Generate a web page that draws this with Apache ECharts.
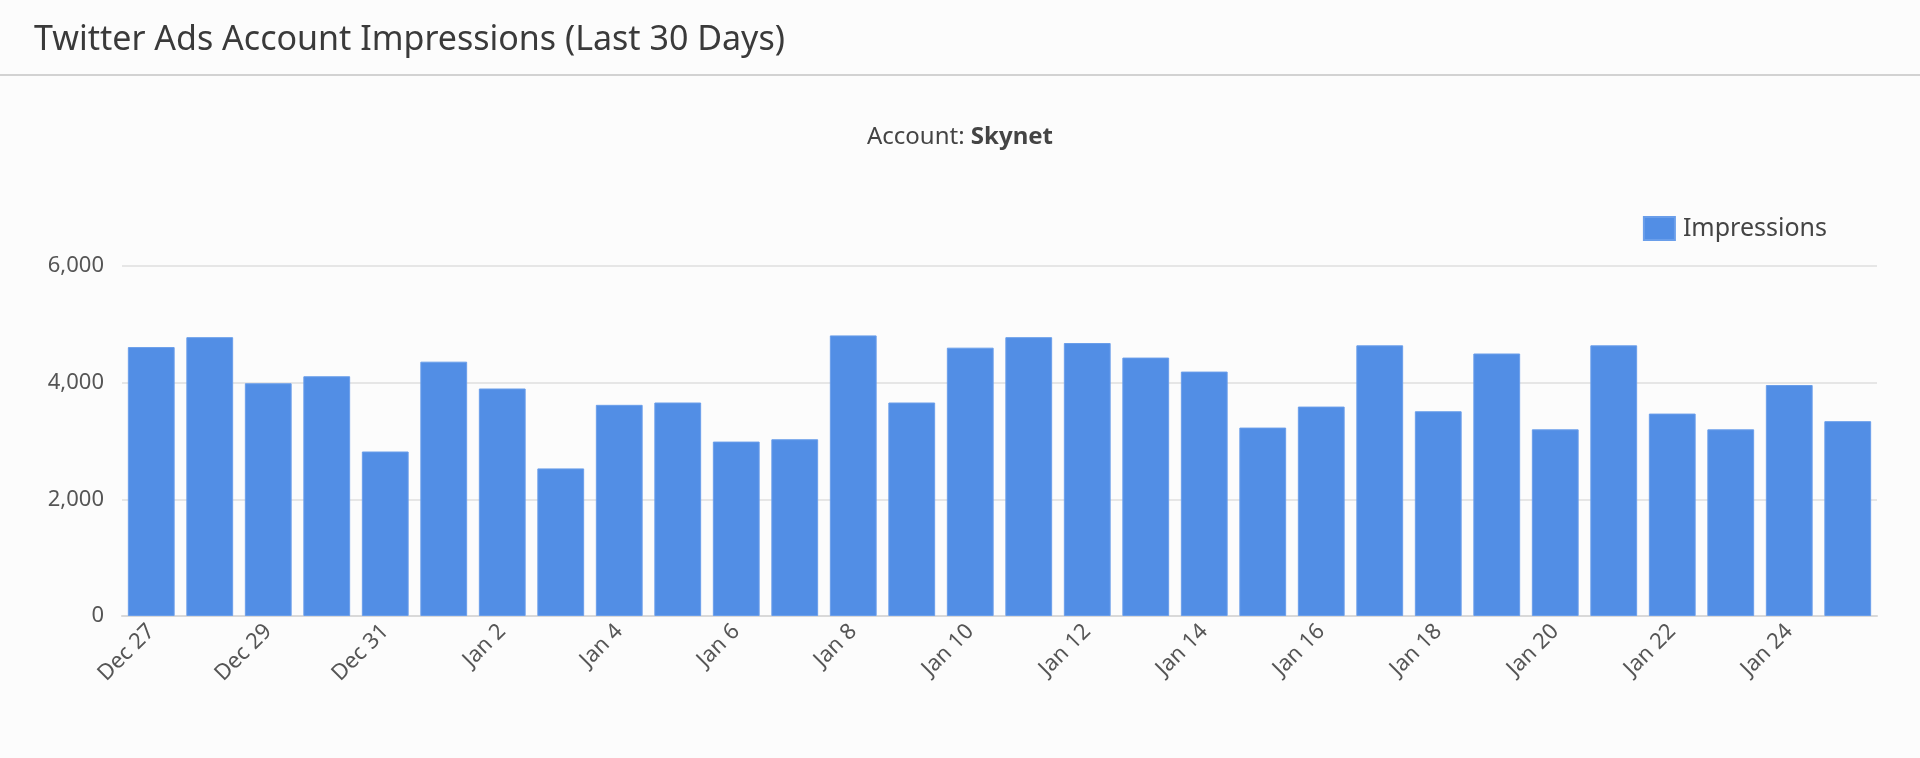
<!DOCTYPE html>
<html>
<head>
<meta charset="utf-8">
<title>Twitter Ads Account Impressions</title>
<script src="https://cdn.jsdelivr.net/npm/echarts@6/dist/echarts.min.js"></script>
<style>
    html, body { margin: 0; padding: 0; background: #fcfcfc; }
    #chart { width: 1920px; height: 758px; }
</style>
</head>
<body>
<div id="chart"></div>
<script>
    'use strict';

    // x axis categories (last 30 days)
    var days = ['Dec 27', 'Dec 28', 'Dec 29', 'Dec 30', 'Dec 31',
        'Jan 1', 'Jan 2', 'Jan 3', 'Jan 4', 'Jan 5', 'Jan 6', 'Jan 7', 'Jan 8', 'Jan 9', 'Jan 10',
        'Jan 11', 'Jan 12', 'Jan 13', 'Jan 14', 'Jan 15', 'Jan 16', 'Jan 17', 'Jan 18', 'Jan 19', 'Jan 20',
        'Jan 21', 'Jan 22', 'Jan 23', 'Jan 24', 'Jan 25'];

    // impressions per day
    var impressions = [4610, 4780, 3990, 4110, 2820, 4360, 3900, 2530, 3620, 3660,
        2990, 3030, 4810, 3660, 4600, 4780, 4680, 4430, 4190, 3230,
        3590, 4640, 3510, 4500, 3200, 4640, 3470, 3200, 3960, 3340];

    var seriesName = 'Impressions';
    var accountName = 'Skynet';

    var fontName = "'Noto Sans', sans-serif";
    var barColor = '#528ee5';

    var myChart = echarts.init(document.getElementById('chart'));

    var option = {
        backgroundColor: '#fcfcfc',
        animation: false,
        textStyle: { fontFamily: fontName },
        title: [{
            text: 'Twitter Ads Account Impressions (Last 30 Days)',
            left: 29,
            top: 18,
            textStyle: { fontSize: 34, fontWeight: 'normal', color: '#3a3a3a', fontFamily: fontName }
        }, {
            text: '{a|Account: }{b|' + accountName + '}',
            left: 'center',
            top: 120,
            textStyle: {
                fontWeight: 'normal',
                rich: {
                    a: { fontSize: 24, color: '#444', fontWeight: 'normal', fontFamily: fontName },
                    b: { fontSize: 24, color: '#444', fontWeight: 'bold', fontFamily: fontName }
                }
            }
        }],
        graphic: [{
            type: 'line',
            shape: { x1: 0, y1: 75, x2: 1920, y2: 75 },
            style: { stroke: '#d2d2d2', lineWidth: 2 }
        }],
        legend: {
            data: [seriesName],
            icon: 'rect',
            right: 88,
            top: 211,
            itemWidth: 31,
            itemHeight: 23,
            itemGap: 10,
            textStyle: { fontSize: 25, color: '#444', fontFamily: fontName, padding: [0, 0, 0, 3] }
        },
        grid: {
            left: 122,
            right: 43,
            top: 266,
            bottom: 142
        },
        xAxis: {
            type: 'category',
            data: days,
            axisLine: { lineStyle: { color: '#d9d9d9', width: 2 } },
            axisTick: { show: false },
            axisLabel: {
                interval: 1,
                rotate: 45,
                margin: 12,
                fontSize: 22,
                color: '#555',
                fontFamily: fontName
            }
        },
        yAxis: {
            type: 'value',
            min: 0,
            max: 6000,
            interval: 2000,
            axisLine: { show: false },
            axisTick: { show: false },
            splitLine: { lineStyle: { color: '#e6e6e6', width: 2 } },
            axisLabel: {
                margin: 18,
                fontSize: 22,
                color: '#555',
                fontFamily: fontName,
                formatter: function (v) {
                    return v.toLocaleString('en-US');
                }
            }
        },
        series: [{
            name: seriesName,
            type: 'bar',
            data: impressions,
            barCategoryGap: '20%',
            itemStyle: { color: barColor, borderColor: '#6a9eea', borderWidth: 1 }
        }]
    };

    myChart.setOption(option);
</script>
</body>
</html>
